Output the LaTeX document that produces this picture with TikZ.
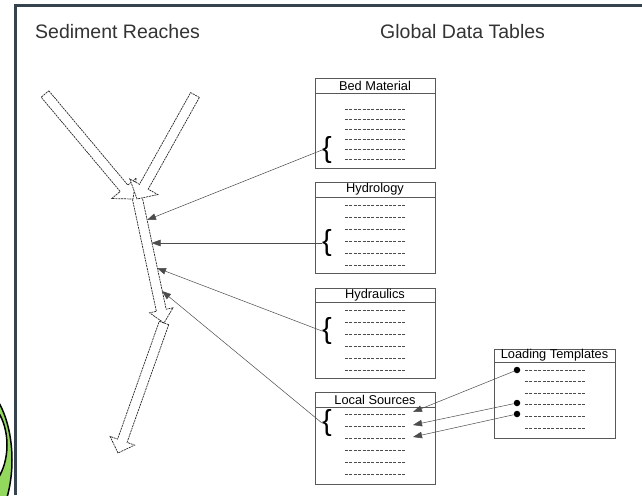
\documentclass[tikz,border=0pt]{standalone}
\usepackage{fontspec}
\setmainfont{Liberation Sans}
\usetikzlibrary{calc,arrows.meta}
\definecolor{framecol}{HTML}{34434D}
\definecolor{leafgreen}{HTML}{92D95E}
\tikzset{
  reach/.style={draw=black!85, fill=white, line width=0.7pt, dash pattern=on 2pt off 0.8pt, line join=miter},
  tbox/.style={draw=black!65, line width=0.9pt},
  rowline/.style={draw=black!70, line width=0.75pt, dash pattern=on 3pt off 1.4pt},
  tabtitle/.style={font=\fontsize{12.8}{14}\selectfont, inner sep=0},
  heading/.style={font=\fontsize{19.5}{22}\selectfont, text=black!80, inner sep=0, anchor=base west},
  bracenode/.style={font=\fontsize{29}{32}\selectfont, inner sep=0},
  conn/.style={draw=black!70, line width=0.5pt, -{Triangle[length=9pt,width=6.5pt]}},
  dot/.style={circle, fill=black, inner sep=0, minimum size=6.5pt},
}
% #1 start, #2 end, #3 shaft half width, #4 head half width, #5 head length
\newcommand\reacharrow[5]{%
  \coordinate (ra-s) at #1;
  \coordinate (ra-e) at #2;
  \coordinate (ra-h) at ($(ra-e)!#5!(ra-s)$);
  \path[reach] ($(ra-s)!#3!90:(ra-e)$) -- ($(ra-h)!#3!-90:(ra-s)$) -- ($(ra-h)!#4!-90:(ra-s)$)
     -- (ra-e) -- ($(ra-h)!#4!90:(ra-s)$) -- ($(ra-h)!#3!90:(ra-s)$) -- ($(ra-s)!#3!-90:(ra-e)$) -- cycle;
}
\begin{document}
\begin{tikzpicture}[x=1pt,y=-1pt]
\useasboundingbox (0,0) rectangle (642,495);
\fill[white] (0,0) rectangle (642,495);

% green shape at bottom left
\begin{scope}
  \clip (0,380) rectangle (15,495);
  \draw[line width=1.5pt, fill=leafgreen] (-30,460) ellipse [x radius=42, y radius=79];
  \draw[line width=1.5pt, fill=white] (-25,445) ellipse [x radius=32, y radius=48];
\end{scope}

% frame
\draw[framecol, line width=2.2pt] (15.5,495) -- (15.5,5.5) -- (642,5.5);

% headings
\node[heading] (hsed) at (35,39) {Sediment Reaches};
\node[heading] (hglob) at (380,39) {Global Data Tables};

% reaches (block arrows)
\reacharrow{(164,323)}{(118,453)}{5pt}{13pt}{13pt}
\reacharrow{(136,192)}{(164,323)}{5pt}{12pt}{13pt}
\reacharrow{(45,94)}{(133,199)}{5pt}{16pt}{14pt}
\reacharrow{(195,95)}{(137,199)}{5pt}{16pt}{14pt}

% stream attachment points
\coordinate (sbed) at (147,220);
\coordinate (shyd) at (151.5,243);
\coordinate (shyr) at (157,268);
\coordinate (sloc) at (162,291);

% tables
% Bed Material
\node[tbox, minimum width=120pt, minimum height=90pt, inner sep=0] (bed) at (375,123) {};
\draw[tbox] (315,93) -- (435,93);
\node[tabtitle] (bedt) at (375,85.5) {Bed Material};
\foreach \y in {109,119,129,139,149,159} \draw[rowline] (345,\y) -- (405,\y);
\node[bracenode] (bedb) at (327,150) {\{};

% Hydrology
\node[tbox, minimum width=120pt, minimum height=91pt, inner sep=0] (hyd) at (375,227.5) {};
\draw[tbox] (315,197) -- (435,197);
\node[tabtitle] (hydt) at (375,189.5) {Hydrology};
\foreach \y in {205,217,229,241,253,265} \draw[rowline] (345,\y) -- (405,\y);
\node[bracenode] (hydb) at (327,243) {\{};

% Hydraulics
\node[tbox, minimum width=120pt, minimum height=90pt, inner sep=0] (hyr) at (375,333) {};
\draw[tbox] (315,302) -- (435,302);
\node[tabtitle] (hyrt) at (375,295) {Hydraulics};
\foreach \y in {310,322,334,346,358,370} \draw[rowline] (345,\y) -- (405,\y);
\node[bracenode] (hyrb) at (327,331) {\{};

% Local Sources
\node[tbox, minimum width=120pt, minimum height=92pt, inner sep=0] (loc) at (375,438) {};
\draw[tbox] (315,407) -- (435,407);
\node[tabtitle] (loct) at (375,399.5) {Local Sources};
\foreach \y in {414,426,438,450,462,474} \draw[rowline] (345,\y) -- (405,\y);
\node[bracenode] (locb) at (327,423) {\{};

% Loading Templates
\node[tbox, minimum width=121pt, minimum height=89pt, inner sep=0] (lt) at (554.5,393.5) {};
\draw[tbox] (494,362) -- (615,362);
\node[tabtitle] (ltt) at (554.5,355.5) {Loading Templates};
\foreach \y in {370,381.6,393.2,404.8,416.4,428} \draw[rowline] (525,\y) -- (585,\y);
\node[dot] (d1) at (517,370) {};
\node[dot] (d2) at (517,403) {};
\node[dot] (d3) at (517,414) {};
\coordinate (l1) at (413,412);
\coordinate (l2) at (413,425);
\coordinate (l3) at (413,437);

% connectors
\draw[conn] (bedb.west) -- (sbed);
\draw[conn] (hydb.west) -- (shyd);
\draw[conn] (hyrb.west) -- (shyr);
\draw[conn] (locb.west) -- (sloc);
\draw[conn] (d1) -- (l1);
\draw[conn] (d2) -- (l2);
\draw[conn] (d3) -- (l3);
\end{tikzpicture}
\end{document}
